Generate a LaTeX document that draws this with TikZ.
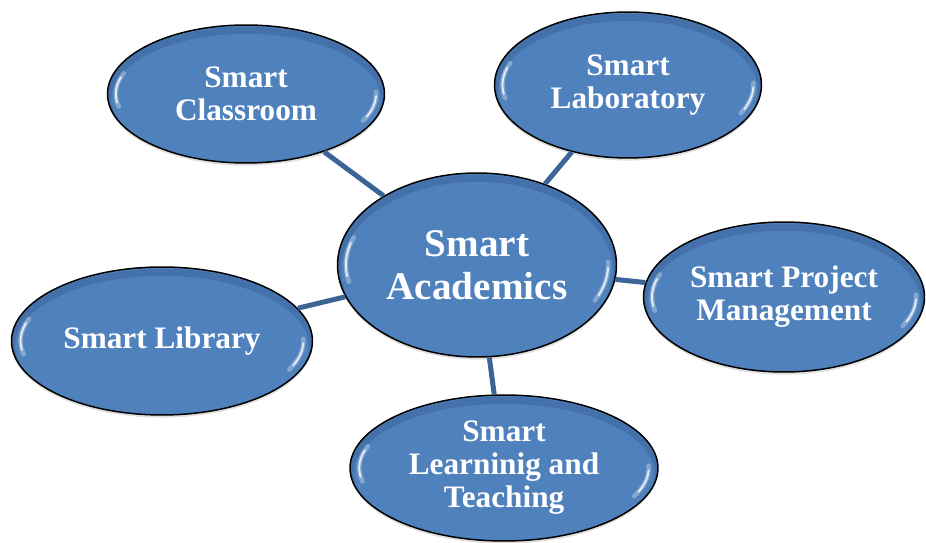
\documentclass[tikz,border=0pt]{standalone}
\usepackage{fontspec}
\setmainfont{Liberation Serif}
\usetikzlibrary{shapes.geometric,shadows,calc}

\definecolor{smartblue}{RGB}{79,129,189}
\definecolor{smartrim}{RGB}{50,86,133}
\definecolor{smartline}{RGB}{60,101,150}

\tikzset{
  gloss/.style={
    path picture={
      % darker rim, heavier at the top
      \draw[smartrim, opacity=.35, line width=4pt]
        let \p1=(path picture bounding box.north east),
            \p2=(path picture bounding box.center) in
        ($(\p2)+(0pt,-3pt)$) ellipse[x radius=\x1-\x2, y radius=\y1-\y2];
      % light streaks on both sides
      \foreach \a/\b in {160/192,-26/2}{
        \draw[white, opacity=.3, line width=2.6pt, line cap=round]
          let \p1=(path picture bounding box.north east),
              \p2=(path picture bounding box.center),
              \n1={0.94*(\x1-\x2)}, \n2={0.88*(\y1-\y2)} in
          ($(\p2)+(\a:\n1 and \n2)$)
            arc[start angle=\a, end angle=\b, x radius=\n1, y radius=\n2];
        \draw[white, opacity=.8, line width=1pt, line cap=round]
          let \p1=(path picture bounding box.north east),
              \p2=(path picture bounding box.center),
              \n1={0.94*(\x1-\x2)}, \n2={0.88*(\y1-\y2)} in
          ($(\p2)+(\a+4:\n1 and \n2)$)
            arc[start angle=\a+4, end angle=\b-4, x radius=\n1, y radius=\n2];
      }
    }
  }
}

\begin{document}
\begin{tikzpicture}[x=0.02cm, y=-0.02cm]
  \useasboundingbox (0,0) rectangle (926,543);

  \begin{scope}[every node/.style={ellipse, draw=black, line width=0.85pt,
      fill=smartblue, gloss, inner sep=0pt, text=white, align=center,
      font=\bfseries\fontsize{17.8}{18.8}\selectfont,
      drop shadow={opacity=.25, shadow xshift=0pt, shadow yshift=-1.5pt}}]
    \node (0) at (477,265) [minimum width=5.58cm, minimum height=3.68cm,
      font=\bfseries\fontsize{22.3}{24.5}\selectfont] {Smart\\Academics};
    \node (1) at (246,94)  [minimum width=5.54cm, minimum height=2.76cm] {Smart\\Classroom};
    \node (2) at (628,85)  [minimum width=5.34cm, minimum height=2.92cm] {Smart\\Laboratory};
    \node (3) at (784,297) [minimum width=5.62cm, minimum height=3.0cm] {Smart Project\\Management};
    \node (4) at (162,341) [minimum width=6.02cm, minimum height=2.96cm] {Smart Library};
    \node (5) at (504,468) [minimum width=6.16cm, minimum height=2.92cm] {Smart\\Learninig and\\Teaching};
  \end{scope}

  \begin{scope}[every edge/.style={draw=smartline, line width=0.1cm}]
    \path (0) edge (1);
    \path (0) edge (2);
    \path (0) edge (3);
    \path (0) edge (4);
    \path (0) edge (5);
  \end{scope}

\end{tikzpicture}
\end{document}
